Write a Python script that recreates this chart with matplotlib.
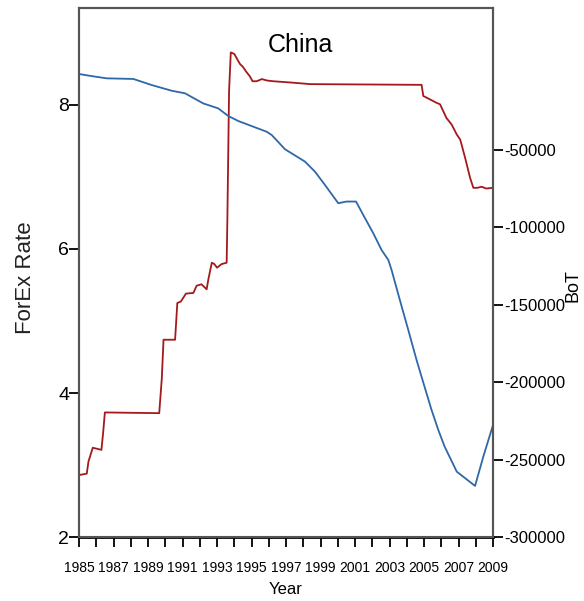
import matplotlib
matplotlib.use("Agg")
import matplotlib.pyplot as plt
from matplotlib.ticker import MultipleLocator, FixedLocator, FuncFormatter

REG = ['Liberation Sans', 'DejaVu Sans']

# ForEx rate (left axis) - yuan per USD
fx_year = [1985.0, 1985.45, 1985.55, 1985.8, 1986.3, 1986.4, 1986.5, 1989.65, 1989.8, 1989.9,
           1990.57, 1990.7, 1990.9, 1991.2, 1991.63, 1991.82, 1992.1, 1992.4, 1992.5,
           1992.7, 1992.85, 1993.0, 1993.26, 1993.56, 1993.6, 1993.7, 1993.8, 1994.0, 1994.33,
           1994.5, 1994.7, 1994.9, 1995.06, 1995.3, 1995.6, 1995.9, 1996.26, 1997.4, 1998.4,
           2004.86, 2004.96, 2005.25, 2005.73, 2005.93, 2006.3, 2006.6, 2006.9, 2007.1, 2007.38,
           2007.67, 2007.86, 2008.1, 2008.34, 2008.6, 2009.0]
fx_rate = [2.86, 2.88, 3.05, 3.24, 3.21, 3.45, 3.73, 3.72, 4.2, 4.74,
           4.74, 5.25, 5.27, 5.38, 5.39, 5.49, 5.51, 5.44, 5.58,
           5.81, 5.79, 5.74, 5.79, 5.81, 6.4, 8.2, 8.73, 8.71, 8.57,
           8.53, 8.46, 8.40, 8.33, 8.33, 8.36, 8.34, 8.33, 8.31, 8.29,
           8.28, 8.125, 8.09, 8.03, 8.01, 7.82, 7.73, 7.59, 7.52, 7.27,
           6.99, 6.85, 6.85, 6.865, 6.84, 6.85]

# Balance of trade (right axis)
bot_year = [1985.0, 1985.7, 1986.6, 1988.15, 1989.2, 1990.37, 1991.15, 1992.2, 1993.07, 1993.65,
            1994.24, 1995.0, 1995.88, 1996.17, 1996.94, 1998.1, 1998.68, 1999.26, 2000.03, 2000.5,
            2001.06, 2001.48, 2002.06, 2002.54, 2002.93, 2003.12, 2003.6, 2004.09, 2004.57, 2005.06,
            2005.44, 2005.83, 2006.2, 2006.9, 2007.27, 2007.96, 2008.44, 2009.0]
bot_val = [-900, -2200, -3700, -4100, -8000, -11700, -13400, -19900, -23100, -28000,
           -31300, -34500, -38200, -40300, -49500, -57500, -64000, -72600, -84400, -83300,
           -83300, -92000, -103800, -114600, -121000, -127500, -146900, -166300, -185700, -204000,
           -218000, -230900, -241700, -257800, -261000, -267000, -248000, -227700]

left_ticks = [2, 4, 6, 8]
right_ticks = [-300000, -250000, -200000, -150000, -100000, -50000]

RED = '#a3191c'
BLUE = '#2f67a8'
SPINE = '#555555'

fig = plt.figure(figsize=(5.84, 6.01), dpi=100)
ax = fig.add_axes([79/584, 64/601, 414/584, 529/601])
ax2 = ax.twinx()

ax.plot(fx_year, fx_rate, color=RED, lw=1.3)
ax2.plot(bot_year, bot_val, color=BLUE, lw=1.3)

ax.set_xlim(1985, 2009)
ax.set_ylim(2, 2 + 529/72)
ax2.set_ylim(-300000, -300000 + 529/77.4*50000)

ax.xaxis.set_major_locator(MultipleLocator(1))
ax.xaxis.set_major_formatter(FuncFormatter(lambda v, p: str(int(round(v))) if int(round(v)) % 2 == 1 else ''))
ax.yaxis.set_major_locator(FixedLocator(left_ticks))
ax.set_yticklabels([str(t) for t in left_ticks])
ax2.yaxis.set_major_locator(FixedLocator(right_ticks))
ax2.set_yticklabels([str(t) for t in right_ticks])

for a in (ax, ax2):
    for s in a.spines.values():
        s.set_color(SPINE)
        s.set_linewidth(1.5)
ax.spines['bottom'].set_color('black')
ax.spines['bottom'].set_linewidth(2)

ax.tick_params(axis='x', direction='out', length=7, width=1.3, color='black', pad=10)
ax.tick_params(axis='y', direction='out', length=7, width=1.3, color='black', pad=0)
ax2.tick_params(axis='y', direction='out', length=7, width=1.3, color='black', pad=1)

for lab in ax.get_xticklabels():
    lab.set_family(REG); lab.set_fontsize(10)
for lab in ax.get_yticklabels():
    lab.set_family(REG); lab.set_fontsize(14)
for lab in ax2.get_yticklabels():
    lab.set_family(REG); lab.set_fontsize(12)

ax.set_xlabel('Year', family=REG, fontsize=12, labelpad=5)
ax.set_ylabel('ForEx Rate', family=REG, fontsize=16, va='center', ha='center', color='#222222')
ax.yaxis.set_label_coords((25 - 79) / 414, 0.49)
ax2.set_ylabel('BoT', family=REG, fontsize=13, va='center', ha='center')
ax2.yaxis.set_label_coords((573 - 79) / 414, 0.475)

fig.text(300/584, 1 - 45/601, 'China', family=REG, fontsize=18, ha='center', va='center')

fig.savefig('out.png', dpi=100)
